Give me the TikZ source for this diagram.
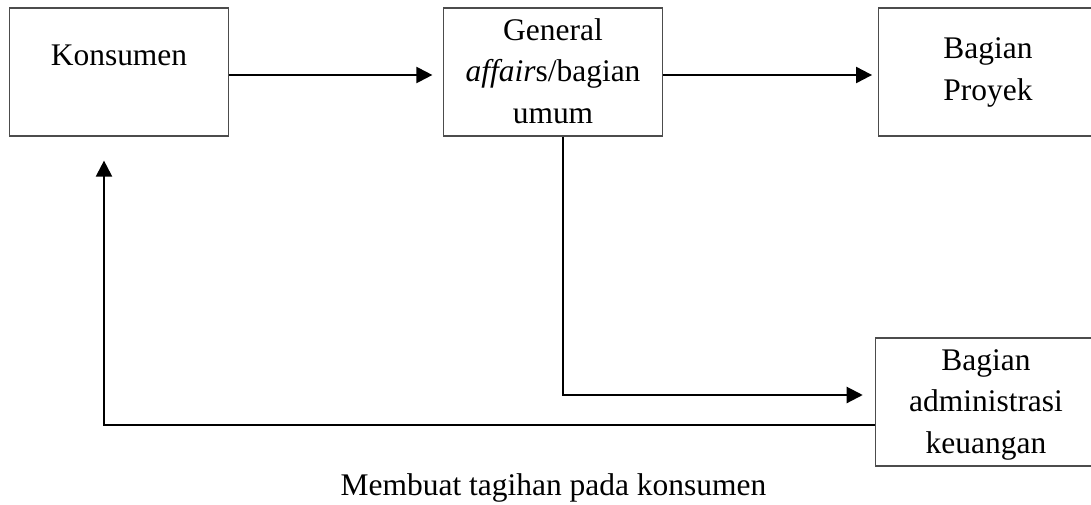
\documentclass[tikz,border=0pt]{standalone}
\usepackage{fontspec}
\setmainfont{Liberation Serif}
\usetikzlibrary{arrows.meta}
\tikzset{
  x=0.75pt, y=-0.75pt,
  box/.style={draw=black!70, line width=0.9pt, minimum width=164pt, minimum height=96pt, inner sep=0pt},
  label/.style={font=\fontsize{23.6}{31.1}\selectfont, align=center, inner sep=0pt, anchor=base},
  conn/.style={line width=1.6pt, -{Triangle[length=12pt,width=12pt]}}
}
\begin{document}
\begin{tikzpicture}
\useasboundingbox (0,0) rectangle (1091,504);

% boxes
\node[box] (kons) at (119,72) {};
\node[box] (gen) at (553,72) {};
\node[box] (proj) at (988,72) {};
\node[box, minimum width=166pt] (adm) at (986,402) {};

% texts (placed on the baseline of their last line)
\node[label] (tkons) at (119,65) {Konsumen};
\node[label] (tgen) at (553,123) {General\\\textit{affair}s/bagian\\umum};
\node[label] (tproj) at (988,100) {Bagian\\Proyek};
\node[label] (tadm) at (986,453) {Bagian\\administrasi\\keuangan};
\node[label] (cap) at (553.5,495) {Membuat tagihan pada konsumen};

% connectors
\draw[conn, shorten >=8pt] (kons.east |- 0,75) -- (gen.west |- 0,75);
\draw[conn, shorten >=4.5pt] (gen.east |- 0,75) -- (proj.west |- 0,75);
\draw[conn, shorten >=9pt] (gen.south -| 563,0) |- (adm.west |- 0,395);
\draw[conn, shorten >=18pt] (adm.west |- 0,425) -| (kons.south -| 104,0);
\end{tikzpicture}
\end{document}
